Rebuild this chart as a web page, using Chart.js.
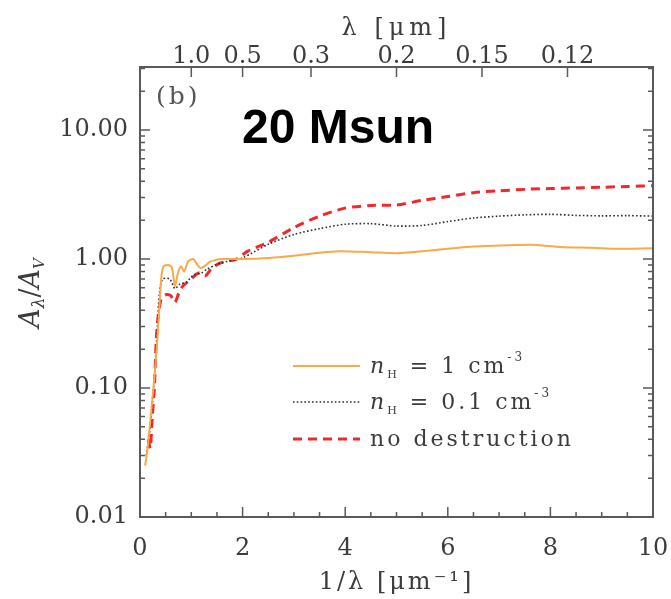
<!DOCTYPE html>
<html>
<head>
<meta charset="utf-8">
<script src="https://cdn.jsdelivr.net/npm/chart.js@4.4.1/dist/chart.umd.min.js"></script>
<style>
  html, body { margin: 0; padding: 0; background: #ffffff; }
  #wrap { width: 671px; height: 599px; }
</style>
</head>
<body>
<div id="wrap"><canvas id="c" width="671" height="599"></canvas></div>
<script>
// ---- data ----
const seriesNames = ['n_H = 1 cm^-3', 'n_H = 0.1 cm^-3', 'no destruction'];

const orangeX = [0.1, 0.15, 0.2, 0.25, 0.3, 0.35, 0.38, 0.42, 0.46, 0.55, 0.62, 0.68, 0.74, 0.8, 0.86, 0.94, 1.04, 1.12, 1.18, 1.26, 1.36, 1.46, 1.6, 2.0, 2.5, 3.0, 3.5, 3.9, 4.5, 5.0, 5.5, 6.0, 6.5, 7.0, 7.6, 8.2, 8.8, 9.3, 9.6, 10];
const orangeY = [0.025, 0.035, 0.055, 0.09, 0.15, 0.28, 0.45, 0.75, 0.88, 0.9, 0.86, 0.62, 0.78, 0.88, 0.8, 0.96, 1.0, 0.9, 0.85, 0.88, 0.95, 0.98, 1.0, 1.0, 1.02, 1.06, 1.12, 1.15, 1.13, 1.11, 1.15, 1.2, 1.25, 1.27, 1.29, 1.24, 1.22, 1.2, 1.2, 1.21];

const blackX = [0.12, 0.2, 0.28, 0.34, 0.38, 0.44, 0.58, 0.68, 0.78, 0.9, 1.04, 1.2, 1.3, 1.5, 1.8, 2.0, 2.5, 3.0, 3.5, 4.0, 4.5, 5.0, 5.5, 6.0, 6.5, 7.0, 7.5, 8.0, 8.5, 9.0, 9.5, 10];
const blackY = [0.03, 0.05, 0.12, 0.3, 0.55, 0.7, 0.7, 0.59, 0.64, 0.66, 0.75, 0.78, 0.83, 0.91, 0.98, 1.02, 1.3, 1.55, 1.72, 1.86, 1.88, 1.8, 1.82, 1.95, 2.08, 2.15, 2.2, 2.22, 2.18, 2.16, 2.17, 2.15];

const redX = [0.16, 0.2, 0.24, 0.28, 0.32, 0.36, 0.42, 0.52, 0.6, 0.68, 0.76, 0.84, 1.0, 1.14, 1.27, 1.4, 1.56, 1.88, 2.1, 2.5, 3.0, 3.5, 4.0, 4.5, 5.0, 5.5, 6.0, 6.5, 7.0, 7.6, 8.0, 8.5, 9.0, 9.5, 10];
const redY = [0.04, 0.034, 0.06, 0.1, 0.25, 0.38, 0.5, 0.53, 0.52, 0.46, 0.55, 0.62, 0.7, 0.78, 0.74, 0.85, 0.93, 1.0, 1.15, 1.35, 1.75, 2.15, 2.48, 2.6, 2.62, 2.85, 3.05, 3.27, 3.38, 3.48, 3.52, 3.56, 3.6, 3.65, 3.7];

const yTickValues = [0.01, 0.1, 1, 10];
const yTickLabels = ['0.01', '0.10', '1.00', '10.00'];
const xTickValues = [0, 2, 4, 6, 8, 10];
const topWavelengths = [1.0, 0.5, 0.3, 0.2, 0.15, 0.12];
const topTickLabels = ['1.0', '0.5', '0.3', '0.2', '0.15', '0.12'];

const toXY = (xs, ys) => xs.map((x, i) => ({ x: x, y: ys[i] }));

// ---- styles ----
const TXT = '#3c3c3c';
const AX = '#5a5a5a';
const SERIF = '"DejaVu Serif", "Liberation Serif", serif';
const colors = ['#F9A84A', '#2e2e2e', '#F2282C'];
const widths = [2, 1.6, 3];
const dashes = [[], [1.6, 2.2], [9, 6]];

function drawRich(ctx, x, y, parts, align, spacing) {
  ctx.letterSpacing = (spacing || 0) + 'px';
  let total = 0;
  parts.forEach(p => { ctx.font = p.font; p.w = ctx.measureText(p.t).width; total += p.w; });
  let cx = align === 'center' ? x - total / 2 : x;
  ctx.textAlign = 'left';
  ctx.textBaseline = 'alphabetic';
  parts.forEach(p => { ctx.font = p.font; ctx.fillText(p.t, cx, y + (p.dy || 0)); cx += p.w; });
  ctx.letterSpacing = '0px';
}

// widen axis titles a little (the reference font is broad)
function spacedTitle(s, px) {
  if (s._spaced) return;
  s._spaced = true;
  const orig = s.drawTitle.bind(s);
  s.drawTitle = function () {
    this.ctx.save();
    this.ctx.letterSpacing = px + 'px';
    orig();
    this.ctx.restore();
  };
}

const overlay = {
  id: 'overlay',
  afterDraw(chart) {
    const ctx = chart.ctx;
    const a = chart.chartArea;
    const xs = chart.scales.x, ys = chart.scales.y;
    ctx.save();
    // frame
    ctx.strokeStyle = AX;
    ctx.lineWidth = 2;
    ctx.strokeRect(a.left, a.top, a.right - a.left, a.bottom - a.top);
    ctx.lineWidth = 1.5;
    ctx.beginPath();
    for (let v = 0; v <= 10.001; v += 0.5) {
      const px = xs.getPixelForValue(v);
      const len = (Math.abs(v % 2) < 1e-6) ? 10 : 5;
      ctx.moveTo(px, a.bottom); ctx.lineTo(px, a.bottom - len);
    }
    topWavelengths.forEach(l => {
      const px = xs.getPixelForValue(1 / l);
      ctx.moveTo(px, a.top); ctx.lineTo(px, a.top + 10);
    });
    for (let d = -2; d <= 1; d++) {
      for (let k = 1; k <= 9; k++) {
        const v = k * Math.pow(10, d);
        if (v > ys.max) continue;
        const py = ys.getPixelForValue(v);
        const len = k === 1 ? 10 : 5;
        ctx.moveTo(a.left, py); ctx.lineTo(a.left + len, py);
        ctx.moveTo(a.right, py); ctx.lineTo(a.right - len, py);
      }
    }
    ctx.stroke();

    ctx.fillStyle = TXT;
    // y title  A_lambda / A_V
    ctx.save();
    ctx.translate(30, 293);
    ctx.rotate(-Math.PI / 2);
    drawRich(ctx, 0, 9, [
      { t: 'A', font: 'italic 27px ' + SERIF },
      { t: 'λ', font: 'italic 17px ' + SERIF, dy: 5 },
      { t: '/', font: '27px ' + SERIF },
      { t: 'A', font: 'italic 27px ' + SERIF },
      { t: 'V', font: 'italic 15px ' + SERIF, dy: 5 }
    ], 'center', 0);
    ctx.restore();

    // panel label
    ctx.fillStyle = '#555555';
    ctx.letterSpacing = '3px';
    ctx.font = '25px ' + SERIF;
    ctx.textAlign = 'left';
    ctx.textBaseline = 'alphabetic';
    ctx.fillText('(b)', 156, 104);
    ctx.letterSpacing = '0px';

    // big label
    ctx.fillStyle = '#000000';
    ctx.font = 'bold 48px "Liberation Sans", Arial, sans-serif';
    ctx.fillText('20 Msun', 242, 143);

    // legend
    const rows = [366, 402, 439];
    const legendText = [
      [ { t: 'n', font: 'italic 22px ' + SERIF }, { t: 'H', font: '11px ' + SERIF, dy: 5 },
        { t: ' = 1 cm', font: '22px ' + SERIF }, { t: '-3', font: '12px ' + SERIF, dy: -12 } ],
      [ { t: 'n', font: 'italic 22px ' + SERIF }, { t: 'H', font: '11px ' + SERIF, dy: 5 },
        { t: ' = 0.1 cm', font: '22px ' + SERIF }, { t: '-3', font: '12px ' + SERIF, dy: -12 } ],
      [ { t: 'no destruction', font: '22px ' + SERIF } ]
    ];
    rows.forEach((ry, i) => {
      ctx.save();
      ctx.strokeStyle = colors[i];
      ctx.lineWidth = widths[i];
      ctx.setLineDash(dashes[i]);
      ctx.beginPath();
      ctx.moveTo(293, ry); ctx.lineTo(360, ry);
      ctx.stroke();
      ctx.restore();
      ctx.fillStyle = TXT;
      drawRich(ctx, 370, ry + 7, legendText[i], 'left', 3);
    });
    ctx.restore();
  }
};

const datasets = [
  { label: seriesNames[0], data: toXY(orangeX, orangeY) },
  { label: seriesNames[1], data: toXY(blackX, blackY) },
  { label: seriesNames[2], data: toXY(redX, redY) }
].map((d, i) => Object.assign(d, {
  borderColor: colors[i], borderWidth: widths[i], borderDash: dashes[i],
  pointRadius: 0, fill: false, tension: 0.25, borderCapStyle: 'butt'
}));

const noSidePad = s => { s.paddingLeft = 0; s.paddingRight = 0; };

new Chart(document.getElementById('c'), {
  type: 'line',
  data: { datasets: datasets },
  options: {
    responsive: false,
    animation: false,
    devicePixelRatio: 1,
    layout: { padding: { left: 0, right: 18, top: 0, bottom: 0 } },
    plugins: { legend: { display: false }, tooltip: { enabled: false } },
    scales: {
      x: {
        type: 'linear', position: 'bottom', min: 0, max: 10,
        grid: { display: false, drawTicks: false },
        border: { display: false },
        afterBuildTicks: s => { s.ticks = xTickValues.map(v => ({ value: v })); },
        afterFit: s => { s.height = 82; noSidePad(s); spacedTitle(s, 3); },
        ticks: { color: TXT, font: { family: SERIF, size: 24 }, padding: 17, maxRotation: 0 },
        title: { display: true, text: '1/λ [μm⁻¹]', color: TXT, font: { family: SERIF, size: 24 }, padding: { top: 0, bottom: 2 } }
      },
      x2: {
        type: 'linear', position: 'top', min: 0, max: 10,
        grid: { display: false, drawTicks: false },
        border: { display: false },
        afterBuildTicks: s => { s.ticks = topWavelengths.map(l => ({ value: 1 / l })); },
        afterFit: s => { s.height = 67; noSidePad(s); spacedTitle(s, 5); },
        ticks: { color: TXT, font: { family: SERIF, size: 24 }, padding: -4, maxRotation: 0, autoSkip: false,
          callback: (v, i) => topTickLabels[i] },
        title: { display: true, text: 'λ [μm]', color: TXT, font: { family: SERIF, size: 24 }, padding: { top: 14, bottom: 0 } }
      },
      y: {
        type: 'logarithmic', position: 'left', min: 0.01, max: 30.8,
        grid: { display: false, drawTicks: false },
        border: { display: false },
        afterBuildTicks: s => { s.ticks = yTickValues.map(v => ({ value: v })); },
        afterFit: s => { s.width = 140; },
        ticks: { color: TXT, font: { family: SERIF, size: 24 }, padding: 12,
          callback: (v) => yTickLabels[yTickValues.findIndex(t => Math.abs(t - v) < 1e-9)] }
      }
    }
  },
  plugins: [overlay]
});
</script>
</body>
</html>
